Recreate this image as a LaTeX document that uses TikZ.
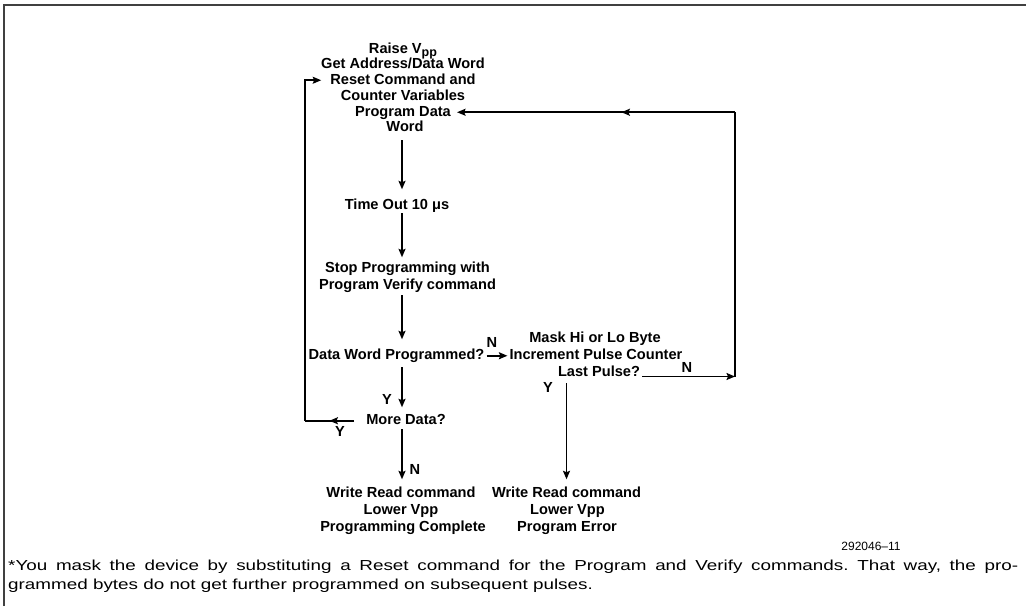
\documentclass[tikz,border=0pt]{standalone}
\usepackage{fontspec}
\setmainfont{Liberation Sans}
\newfontfamily\footfont[FakeStretch=1.3]{Liberation Sans}
\usetikzlibrary{arrows.meta,decorations.markings}
\frenchspacing
\begin{document}
\begin{tikzpicture}[x=1pt,y=-1pt,
  fc/.style={font=\fontsize{14.6}{16}\selectfont\bfseries, inner sep=0pt, text height=10.5pt, text depth=3pt, anchor=base},
  lbl/.style={font=\fontsize{14.6}{16}\selectfont\bfseries, inner sep=0pt, anchor=base},
  tip/.style={-{Stealth[length=8.5pt,width=7pt,inset=1.5pt]}},
  conn/.style={line width=1.6pt, line cap=butt},
  flow/.style={conn, tip},
  midarr/.style={postaction={decorate,decoration={markings,mark=at position #1 with {\arrow{Stealth[length=8.5pt,width=7pt,inset=1.5pt]}}}}},
  midarr/.default=0.5
]
\useasboundingbox (0,0) rectangle (1026,606);
\draw[line width=2pt, draw=black!75] (3.5,606) -- (3.5,5) -- (1026,5);

\coordinate (colx) at (402,0);
\coordinate (lx) at (305,0);
\coordinate (rx) at (735,0);

% main column
\node[fc] (l1) at (403,53.5) {Raise V\raisebox{-0.35ex}{\fontsize{12.5}{12.5}\selectfont pp}};
\node[fc] (l2) at (403,68.5) {Get Address/Data Word};
\node[fc] (l3) at (403,84) {Reset Command and};
\node[fc] (l4) at (403,100) {Counter Variables};
\node[fc] (l5) at (403,116) {Program Data};
\node[fc] (l6) at (405,131.5) {Word};
\node[fc] (time) at (397,209.5) {Time Out 10 μs};
\node[fc] (stopA) at (407.5,272.5) {Stop Programming with};
\node[fc] (stopB) at (407.5,289.5) {Program Verify command};
\node[fc] (dwp) at (396.5,359.5) {Data Word Programmed?};
\node[fc] (more) at (406,424.5) {More Data?};
\node[fc] (wrA1) at (401,497.5) {Write Read command};
\node[fc] (wrA2) at (401,514.5) {Lower Vpp};
\node[fc] (wrA3) at (403,531.5) {Programming Complete};

% right column
\node[fc] (m1) at (595,342.5) {Mask Hi or Lo Byte};
\node[fc] (m2) at (596,359.5) {Increment Pulse Counter};
\node[fc] (m3) at (599,376.5) {Last Pulse?};
\node[fc] (wrB1) at (566.5,497.5) {Write Read command};
\node[fc] (wrB2) at (567.5,514.5) {Lower Vpp};
\node[fc] (wrB3) at (567,531.5) {Program Error};

% main vertical arrows
\draw[flow, shorten <=5.5pt, shorten >=9.5pt] (l6.south -| colx) -- (time.north -| colx);
\draw[flow, shorten <=0.5pt, shorten >=4.5pt] (time.south -| colx) -- (stopA.north -| colx);
\draw[flow, shorten <=2.5pt, shorten >=9.5pt] (stopB.south -| colx) -- (dwp.north -| colx);
\draw[flow, shorten <=4.5pt, shorten >=6.5pt] (dwp.south -| colx) -- (more.north -| colx);
\draw[flow, shorten <=1.5pt, shorten >=7.5pt] (more.south -| colx) -- (wrA1.north -| colx);

% N branch to mask
\draw[flow, shorten <=2pt, shorten >=2pt] (dwp.east) -- (m2.west);
\node[lbl] (n1) at (492,347) {N};

% Last pulse N loop back
\draw[flow, shorten <=2pt] (m3.base east) -- (m3.base east -| rx);
\node[lbl] (n2) at (687,372.5) {N};
\draw[conn] (m3.base east -| rx) -- (l5.east -| rx);
\draw[flow, midarr=0.4, shorten >=6pt] (l5.east -| rx) -- (l5.east);

% Last pulse Y branch
\draw[flow, shorten <=3.5pt, shorten >=7.5pt] (m3.south -| wrB1.north) -- (wrB1.north);
\node[lbl] (y3) at (548,392.5) {Y};

% labels main column
\node[lbl] (y1) at (387,404.5) {Y};
\node[lbl] (n3) at (415,474.5) {N};

% More data Y loop back
\draw[conn, midarr=0.6, shorten <=12pt] (more.west) -- (more.west -| lx);
\draw[flow, shorten >=9pt] (more.west -| lx) -- (l3.west -| lx) -- (l3.west);
\node[lbl] (y2) at (340,436.5) {Y};

% figure number and footnote
\node[anchor=base, inner sep=0pt, font=\fontsize{12}{12}\selectfont] (fig) at (871,550) {292046–11};
\node[anchor=north west, inner sep=0pt, text width=1010pt, align=justify, font=\footfont\fontsize{14.5}{19}\selectfont] (fn) at (8,559.5)
 {*You mask the device by substituting a Reset command for the Program and Verify commands. That way, the pro-\linebreak grammed bytes do not get further programmed on subsequent pulses.};
\end{tikzpicture}
\end{document}
